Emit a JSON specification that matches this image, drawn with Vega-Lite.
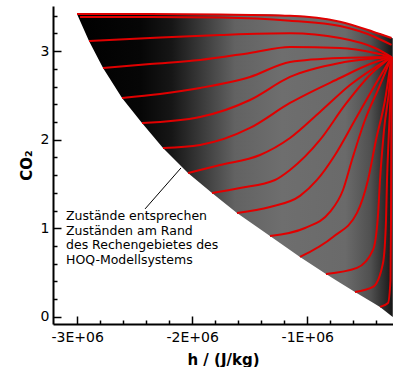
{
  "$schema": "https://vega.github.io/schema/vega-lite/v6.json",
  "width": 340,
  "height": 318,
  "autosize": "none",
  "padding": {"left": 53, "top": 6, "right": 0, "bottom": 43},
  "background": "white",
  "config": {
    "view": {"stroke": null},
    "axis": {
      "grid": false,
      "domainColor": "black",
      "domainWidth": 2,
      "tickColor": "black",
      "tickWidth": 1.5,
      "labelColor": "black",
      "labelFont": "DejaVu Sans",
      "labelFontSize": 14,
      "titleFont": "DejaVu Sans",
      "titleFontSize": 15,
      "titleFontWeight": "bold",
      "titleColor": "black",
      "labelOverlap": false,
      "labelFlush": false
    }
  },
  "datasets": {
    "mesh": [
      {"h": -3001400, "co2": 3.42, "bot": 3.42},
      {"h": -2897000, "co2": 3.42, "bot": 3.115},
      {"h": -2775000, "co2": 3.42, "bot": 2.81},
      {"h": -2610000, "co2": 3.42, "bot": 2.472},
      {"h": -2436500, "co2": 3.42, "bot": 2.189},
      {"h": -2254000, "co2": 3.42, "bot": 1.907},
      {"h": -2036700, "co2": 3.42, "bot": 1.625},
      {"h": -1828000, "co2": 3.42, "bot": 1.399},
      {"h": -1611000, "co2": 3.42, "bot": 1.174},
      {"h": -1324000, "co2": 3.418, "bot": 0.914},
      {"h": -1063300, "co2": 3.4, "bot": 0.677},
      {"h": -837300, "co2": 3.37, "bot": 0.485},
      {"h": -715700, "co2": 3.333, "bot": 0.387},
      {"h": -585300, "co2": 3.281, "bot": 0.282},
      {"h": -428800, "co2": 3.22, "bot": 0.16},
      {"h": -368000, "co2": 3.2, "bot": 0.113},
      {"h": -257000, "co2": 3.145, "bot": 0.0}
    ],
    "lines": [
      {"line": "L0", "o": 0, "h": -3001400, "co2": 3.42},
      {"line": "L0", "o": 1, "h": -2367000, "co2": 3.42},
      {"line": "L0", "o": 2, "h": -1758600, "co2": 3.414},
      {"line": "L0", "o": 3, "h": -1150200, "co2": 3.4},
      {"line": "L0", "o": 4, "h": -715700, "co2": 3.333},
      {"line": "L0", "o": 5, "h": -428800, "co2": 3.22},
      {"line": "L0", "o": 6, "h": -268000, "co2": 3.149},
      {"line": "L0b", "o": 0, "h": -2975000, "co2": 3.386},
      {"line": "L0b", "o": 1, "h": -2367000, "co2": 3.386},
      {"line": "L0b", "o": 2, "h": -1758600, "co2": 3.38},
      {"line": "L0b", "o": 3, "h": -1150200, "co2": 3.344},
      {"line": "L0b", "o": 4, "h": -715700, "co2": 3.284},
      {"line": "L0b", "o": 5, "h": -411500, "co2": 3.16},
      {"line": "L0b", "o": 6, "h": -268000, "co2": 3.07},
      {"line": "L1", "o": 0, "h": -2897000, "co2": 3.115},
      {"line": "L1", "o": 1, "h": -2367000, "co2": 3.149},
      {"line": "L1", "o": 2, "h": -1758600, "co2": 3.183},
      {"line": "L1", "o": 3, "h": -1150200, "co2": 3.202},
      {"line": "L1", "o": 4, "h": -715700, "co2": 3.149},
      {"line": "L1", "o": 5, "h": -411500, "co2": 3.036},
      {"line": "L1", "o": 6, "h": -268000, "co2": 2.934},
      {"line": "L2", "o": 0, "h": -2775000, "co2": 2.81},
      {"line": "L2", "o": 1, "h": -2367000, "co2": 2.855},
      {"line": "L2", "o": 2, "h": -1932400, "co2": 2.9},
      {"line": "L2", "o": 3, "h": -1497900, "co2": 2.98},
      {"line": "L2", "o": 4, "h": -1150200, "co2": 3.047},
      {"line": "L2", "o": 5, "h": -715700, "co2": 3.036},
      {"line": "L2", "o": 6, "h": -411500, "co2": 2.98},
      {"line": "L2", "o": 7, "h": -268000, "co2": 2.934},
      {"line": "L3", "o": 0, "h": -2610000, "co2": 2.472},
      {"line": "L3", "o": 1, "h": -2280000, "co2": 2.517},
      {"line": "L3", "o": 2, "h": -1932400, "co2": 2.585},
      {"line": "L3", "o": 3, "h": -1497900, "co2": 2.709},
      {"line": "L3", "o": 4, "h": -1150200, "co2": 2.878},
      {"line": "L3", "o": 5, "h": -715700, "co2": 2.923},
      {"line": "L3", "o": 6, "h": -268000, "co2": 2.934},
      {"line": "L4", "o": 0, "h": -2436500, "co2": 2.189},
      {"line": "L4", "o": 1, "h": -1932400, "co2": 2.257},
      {"line": "L4", "o": 2, "h": -1497900, "co2": 2.449},
      {"line": "L4", "o": 3, "h": -1150200, "co2": 2.709},
      {"line": "L4", "o": 4, "h": -715700, "co2": 2.867},
      {"line": "L4", "o": 5, "h": -268000, "co2": 2.934},
      {"line": "L5", "o": 0, "h": -2254000, "co2": 1.907},
      {"line": "L5", "o": 1, "h": -1932400, "co2": 1.941},
      {"line": "L5", "o": 2, "h": -1497900, "co2": 2.133},
      {"line": "L5", "o": 3, "h": -1150200, "co2": 2.415},
      {"line": "L5", "o": 4, "h": -715700, "co2": 2.697},
      {"line": "L5", "o": 5, "h": -454900, "co2": 2.855},
      {"line": "L5", "o": 6, "h": -268000, "co2": 2.934},
      {"line": "L6", "o": 0, "h": -2036700, "co2": 1.625},
      {"line": "L6", "o": 1, "h": -1758600, "co2": 1.715},
      {"line": "L6", "o": 2, "h": -1411000, "co2": 1.828},
      {"line": "L6", "o": 3, "h": -1150200, "co2": 2.02},
      {"line": "L6", "o": 4, "h": -889500, "co2": 2.314},
      {"line": "L6", "o": 5, "h": -628700, "co2": 2.618},
      {"line": "L6", "o": 6, "h": -268000, "co2": 2.934},
      {"line": "L7", "o": 0, "h": -1828000, "co2": 1.399},
      {"line": "L7", "o": 1, "h": -1584800, "co2": 1.456},
      {"line": "L7", "o": 2, "h": -1280600, "co2": 1.546},
      {"line": "L7", "o": 3, "h": -1150200, "co2": 1.659},
      {"line": "L7", "o": 4, "h": -889500, "co2": 1.998},
      {"line": "L7", "o": 5, "h": -672200, "co2": 2.393},
      {"line": "L7", "o": 6, "h": -454900, "co2": 2.731},
      {"line": "L7", "o": 7, "h": -268000, "co2": 2.934},
      {"line": "L8", "o": 0, "h": -1611000, "co2": 1.174},
      {"line": "L8", "o": 1, "h": -1324000, "co2": 1.241},
      {"line": "L8", "o": 2, "h": -1063300, "co2": 1.366},
      {"line": "L8", "o": 3, "h": -915500, "co2": 1.546},
      {"line": "L8", "o": 4, "h": -759100, "co2": 1.828},
      {"line": "L8", "o": 5, "h": -585300, "co2": 2.223},
      {"line": "L8", "o": 6, "h": -411500, "co2": 2.618},
      {"line": "L8", "o": 7, "h": -268000, "co2": 2.934},
      {"line": "L9", "o": 0, "h": -1324000, "co2": 0.914},
      {"line": "L9", "o": 1, "h": -1019800, "co2": 1.004},
      {"line": "L9", "o": 2, "h": -802600, "co2": 1.185},
      {"line": "L9", "o": 3, "h": -689600, "co2": 1.433},
      {"line": "L9", "o": 4, "h": -611400, "co2": 1.772},
      {"line": "L9", "o": 5, "h": -498400, "co2": 2.223},
      {"line": "L9", "o": 6, "h": -368000, "co2": 2.618},
      {"line": "L9", "o": 7, "h": -268000, "co2": 2.934},
      {"line": "L10", "o": 0, "h": -1063300, "co2": 0.677},
      {"line": "L10", "o": 1, "h": -776500, "co2": 0.903},
      {"line": "L10", "o": 2, "h": -567900, "co2": 1.174},
      {"line": "L10", "o": 3, "h": -472300, "co2": 1.546},
      {"line": "L10", "o": 4, "h": -402800, "co2": 1.998},
      {"line": "L10", "o": 5, "h": -324500, "co2": 2.449},
      {"line": "L10", "o": 6, "h": -268000, "co2": 2.934},
      {"line": "L11", "o": 0, "h": -837300, "co2": 0.485},
      {"line": "L11", "o": 1, "h": -567900, "co2": 0.553},
      {"line": "L11", "o": 2, "h": -428800, "co2": 0.756},
      {"line": "L11", "o": 3, "h": -385400, "co2": 1.151},
      {"line": "L11", "o": 4, "h": -368000, "co2": 1.546},
      {"line": "L11", "o": 5, "h": -333200, "co2": 2.11},
      {"line": "L11", "o": 6, "h": -281100, "co2": 2.675},
      {"line": "L11", "o": 7, "h": -268000, "co2": 2.934},
      {"line": "L12", "o": 0, "h": -585300, "co2": 0.282},
      {"line": "L12", "o": 1, "h": -428800, "co2": 0.338},
      {"line": "L12", "o": 2, "h": -342000, "co2": 0.609},
      {"line": "L12", "o": 3, "h": -315800, "co2": 1.095},
      {"line": "L12", "o": 4, "h": -307200, "co2": 1.546},
      {"line": "L12", "o": 5, "h": -289800, "co2": 2.11},
      {"line": "L12", "o": 6, "h": -272400, "co2": 2.675},
      {"line": "L12", "o": 7, "h": -268000, "co2": 2.934},
      {"line": "L13", "o": 0, "h": -368000, "co2": 0.113},
      {"line": "L13", "o": 1, "h": -298500, "co2": 0.158},
      {"line": "L13", "o": 2, "h": -276800, "co2": 0.417},
      {"line": "L13", "o": 3, "h": -272400, "co2": 1.095},
      {"line": "L13", "o": 4, "h": -270700, "co2": 1.772},
      {"line": "L13", "o": 5, "h": -269000, "co2": 2.449},
      {"line": "L13", "o": 6, "h": -268000, "co2": 2.934}
    ],
    "pointer": [
      {"h": -2410000, "co2": 1.219, "h2": -2097500, "co2b": 1.682}
    ],
    "note": [
      {"h": -3097000, "co2": 1.095, "label": "Zustände entsprechen\nZuständen am Rand\ndes Rechengebietes des\nHOQ-Modellsystems"}
    ]
  },
  "encoding": {
    "x": {
      "field": "h",
      "type": "quantitative",
      "scale": {"domain": [-3210000, -255000], "nice": false, "zero": false},
      "axis": {
        "title": "h / (J/kg)",
        "values": [-3000000, -2800000, -2600000, -2400000, -2200000, -2000000, -1800000, -1600000, -1400000, -1200000, -1000000, -800000, -600000, -400000],
        "labelExpr": "datum.value % 1000000 === 0 ? ((datum.value < 0 ? '-' : '') + abs(datum.value / 1000000) + 'E+06') : ''",
        "tickSize": {"condition": {"test": "datum.value % 1000000 === 0", "value": -8}, "value": -4},
        "labelPadding": 14,
        "titlePadding": 4
      }
    },
    "y": {
      "field": "co2",
      "type": "quantitative",
      "scale": {"domain": [-0.08, 3.51], "nice": false, "zero": false},
      "axis": {
        "title": "CO₂",
        "values": [0, 0.2, 0.4, 0.6, 0.8, 1, 1.2, 1.4, 1.6, 1.8, 2, 2.2, 2.4, 2.6, 2.8, 3, 3.2, 3.4],
        "labelExpr": "datum.value % 1 === 0 ? format(datum.value, 'd') : ''",
        "tickSize": {"condition": {"test": "datum.value % 1 === 0", "value": -8}, "value": -4},
        "labelPadding": 12,
        "titlePadding": 6
      }
    }
  },
  "layer": [
    {
      "data": {"name": "mesh"},
      "mark": {
        "type": "area",
        "color": {
          "gradient": "linear",
          "x1": 0, "y1": 0, "x2": 1, "y2": 0,
          "stops": [
            {"offset": 0, "color": "#000000"},
            {"offset": 0.2, "color": "#060606"},
            {"offset": 0.3, "color": "#161616"},
            {"offset": 0.4, "color": "#3c3c3c"},
            {"offset": 0.5, "color": "#626262"},
            {"offset": 0.65, "color": "#6e6e6e"},
            {"offset": 0.85, "color": "#6a6a6a"},
            {"offset": 0.93, "color": "#505050"},
            {"offset": 0.975, "color": "#2a2a2a"},
            {"offset": 1, "color": "#141414"}
          ]
        }
      },
      "encoding": {
        "y2": {"field": "bot"}
      }
    },
    {
      "data": {"name": "lines"},
      "mark": {"type": "line", "color": "#e00000", "strokeWidth": 2, "interpolate": "monotone"},
      "encoding": {
        "detail": {"field": "line"},
        "order": {"field": "o", "type": "quantitative"}
      }
    },
    {
      "data": {"name": "pointer"},
      "mark": {"type": "rule", "color": "black", "strokeWidth": 1},
      "encoding": {
        "x2": {"field": "h2"},
        "y2": {"field": "co2b"}
      }
    },
    {
      "data": {"name": "note"},
      "mark": {"type": "text", "align": "left", "baseline": "alphabetic", "font": "DejaVu Sans", "fontSize": 12.5, "lineHeight": 14.6, "lineBreak": "\n", "color": "black"},
      "encoding": {
        "text": {"field": "label"}
      }
    }
  ]
}
